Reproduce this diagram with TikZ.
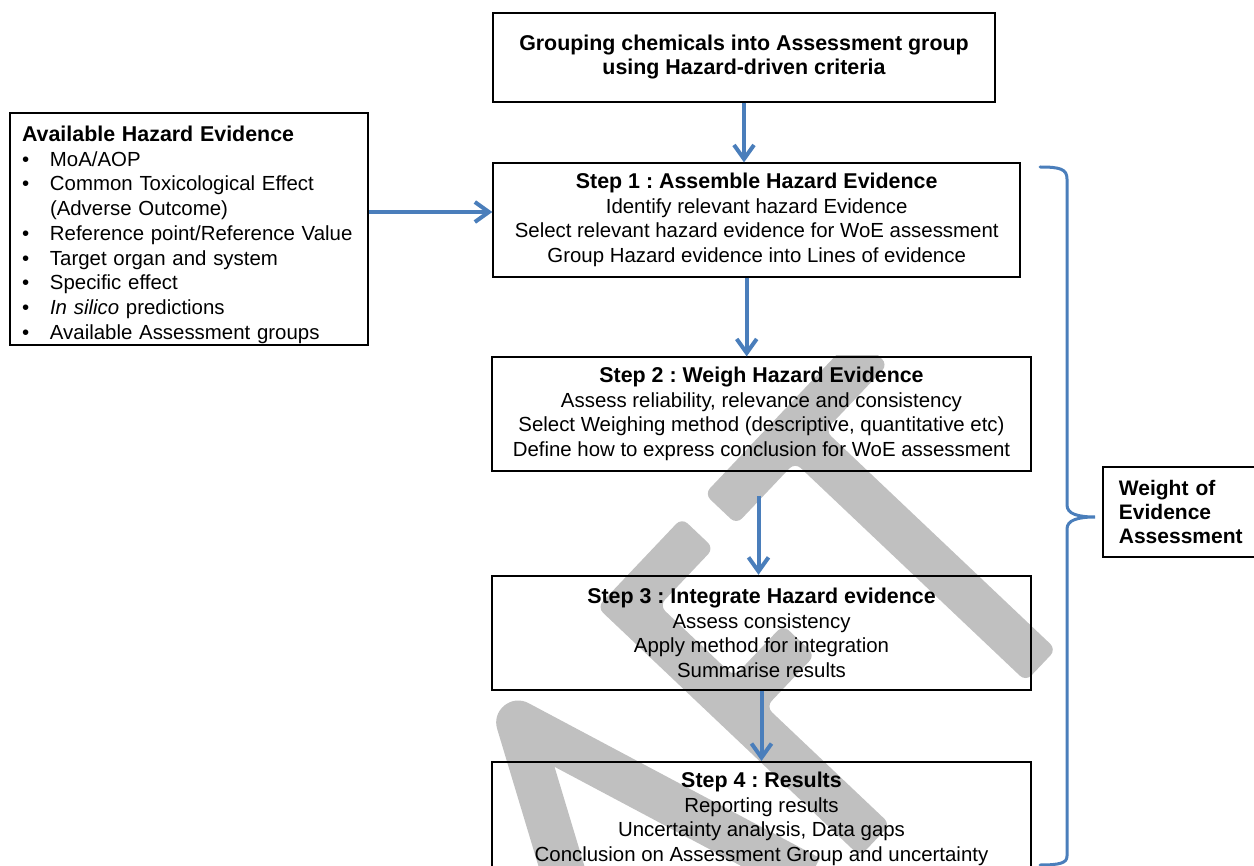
\documentclass[tikz,border=0pt]{standalone}
\usepackage{fontspec}
\setmainfont{Liberation Sans}
\usepackage{xcolor}
\usetikzlibrary{arrows.meta,positioning,calc}
\definecolor{cFlow}{HTML}{4A7EBB}
\definecolor{cMark}{HTML}{C0C0C0}
\tikzset{
  box/.style={draw=black, line width=0.9pt, inner sep=0pt, align=center,
              font=\fontsize{10.2}{12.35}\selectfont},
  flow/.style={-{Straight Barb[length=7pt,width=10pt]}, line width=2pt, draw=cFlow},
  brace/.style={line width=1.5pt, draw=cFlow, line cap=round},
  wmark/.style={fill=cMark, rounded corners=4pt},
  wline/.style={draw=cMark, line width=22pt, line join=round},
}
\newcommand{\sttl}[1]{{\fontsize{10.7}{12.35}\selectfont\bfseries #1}}
\newcommand{\blt}{\makebox[14pt][l]{\textbullet}}
\frenchspacing

\begin{document}
\begin{tikzpicture}[x=0.5pt, y=-0.5pt]
  \useasboundingbox (0,0) rectangle (1254,866);
  % draft watermark behind the boxes
  \begin{scope}
    \clip (0,356) rectangle (1254,866);
    \begin{scope}[x={(0.344pt,0.363pt)}, y={(-0.363pt,0.344pt)}]
      \draw[wline] (-350,-1191) -- (-168,-873) -- (-80,-1191);
      \fill[wmark] (-30,-1213) -- (14,-1213) -- (14,-1042) -- (85,-1042) -- (85,-998)
        -- (14,-998) -- (14,-895) -- (93,-895) -- (93,-851) -- (-30,-851) -- cycle;
      \fill[wmark] (211,-1213) -- (255,-1213) -- (255,-895) -- (346,-895) -- (346,-851)
        -- (126,-851) -- (126,-895) -- (211,-895) -- cycle;
    \end{scope}
  \end{scope}

  \node[box, minimum width=251pt, minimum height=44.2pt, font=\fontsize{10.7}{12}\selectfont\bfseries] (grp) at (744,57.5)
    {Grouping chemicals into Assessment group\\using Hazard-driven criteria};
  \node[box, minimum width=263.5pt, minimum height=56.7pt] (s1) at (756.7,220)
    {\sttl{Step 1 : Assemble Hazard Evidence}\\Identify relevant hazard Evidence\\
     Select relevant hazard evidence for WoE assessment\\Group Hazard evidence into Lines of evidence};
  \node[box, minimum width=269.5pt, minimum height=56.7pt, below=39.4pt of s1, xshift=2.4pt] (s2)
    {\sttl{Step 2 : Weigh Hazard Evidence}\\Assess reliability, relevance and consistency\\
     Select Weighing method (descriptive, quantitative etc)\\Define how to express conclusion for WoE assessment};
  \node[box, minimum width=269.5pt, minimum height=57.2pt, below=51.6pt of s2] (s3)
    {\sttl{Step 3 : Integrate Hazard evidence}\\Assess consistency\\Apply method for integration\\Summarise results};
  \node[box, minimum width=269.5pt, minimum height=57pt, below=35pt of s3] (s4)
    {\sttl{Step 4 : Results}\\Reporting results\\Uncertainty analysis, Data gaps\\Conclusion on Assessment Group and uncertainty};

  \node[box, align=left, text width=167pt, inner xsep=6pt, minimum height=116pt] (avail) at (189,229)
    {\sttl{Available Hazard Evidence}\rule{0pt}{13.5pt}\\
     \blt MoA/AOP\\
     \blt Common Toxicological Effect\\
     \hspace*{14pt}(Adverse Outcome)\\
     \blt Reference point/Reference Value\\
     \blt Target organ and system\\
     \blt Specific effect\\
     \blt \textit{In silico} predictions\\
     \blt Available Assessment groups};

  \node[box, align=left, anchor=west, text width=75pt, inner xsep=8pt, minimum height=44.7pt,
        font=\fontsize{10.5}{12}\selectfont\bfseries] (woe) at (1102,512)
    {Weight of\\Evidence\\Assessment};

  \draw[flow] ($(avail.east |- s1.west)+(0,-8)$) -- ($(s1.west)+(0,-8)$);
  \draw[flow] (grp.south) -- (grp.south |- s1.north);
  \draw[flow] ($(s1.south)+(-10,0)$) -- ($(s1.south |- s2.north)+(-10,0)$);
  \draw[flow] ($(s2.south)+(-3,24)$) -- ($(s3.north)+(-3,0)$);
  \draw[flow] (s3.south) -- (s4.north);

  % brace round the four steps
  \coordinate (btop) at (1040,167);
  \coordinate (btip) at (1095,517);
  \coordinate (bbot) at (1040,865);
  \draw[brace] (btop) .. controls (1060,167) and (1067,169) .. (1067,179) -- (1067,505)
    .. controls (1067,514) and (1078,517) .. (btip)
    .. controls (1078,517) and (1067,520) .. (1067,529) -- (1067,856)
    .. controls (1067,863) and (1060,865) .. (bbot);
\end{tikzpicture}
\end{document}
